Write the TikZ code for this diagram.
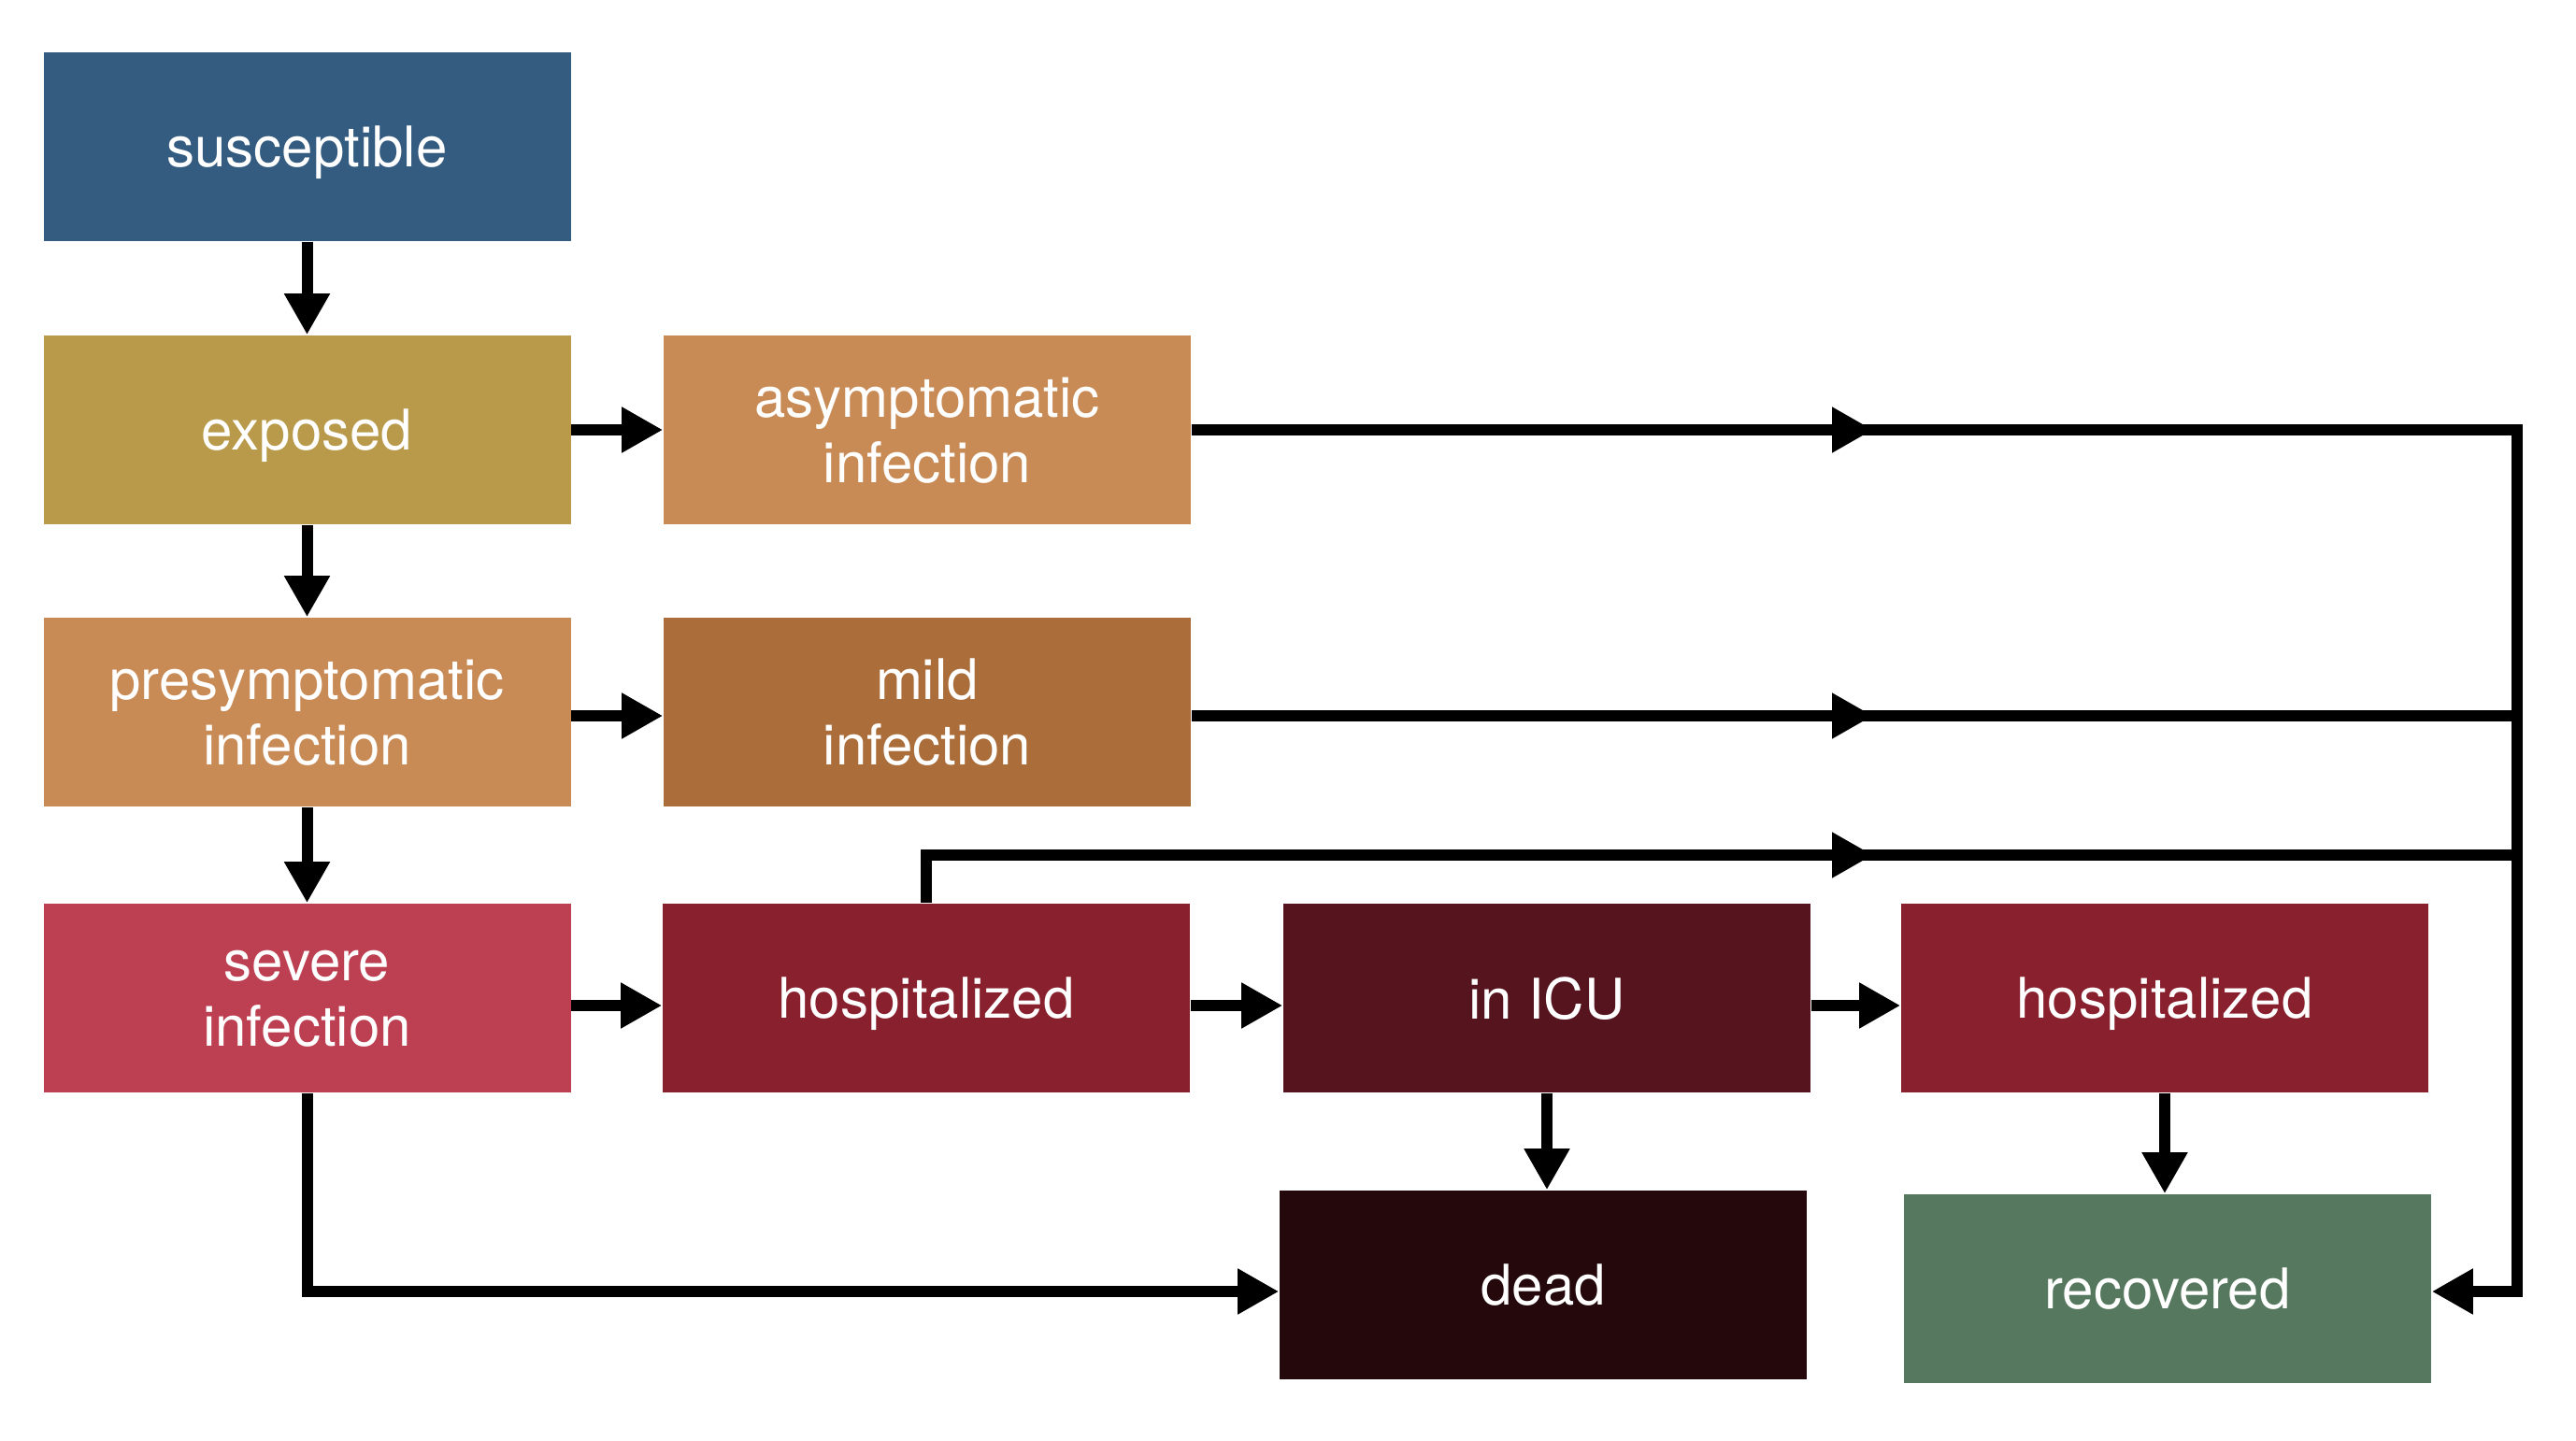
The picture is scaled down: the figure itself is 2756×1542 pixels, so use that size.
\documentclass[tikz,border=0pt]{standalone}
\usepackage{fontspec}
\setmainfont{TeX Gyre Heros}
\usetikzlibrary{arrows.meta}
\definecolor{cSus}{HTML}{345B80}
\definecolor{cExp}{HTML}{B89A4A}
\definecolor{cAsy}{HTML}{C98B56}
\definecolor{cMild}{HTML}{AB6E3B}
\definecolor{cSev}{HTML}{BC4051}
\definecolor{cHos}{HTML}{88202D}
\definecolor{cIcu}{HTML}{55141E}
\definecolor{cDead}{HTML}{24080C}
\definecolor{cRec}{HTML}{56785E}
\begin{document}
\begin{tikzpicture}[x=0.25pt,y=-0.25pt,
  box/.style={rectangle, minimum width=141pt, minimum height=50.5pt, inner sep=0pt,
    text=white, font=\fontsize{15}{17.5}\selectfont, align=center, text depth=0pt},
  arr/.style={line width=3pt, line join=miter, -{Triangle[length=11pt,width=11.5pt]}},
  ln/.style={line width=3pt, line join=miter}]
\useasboundingbox (0,0) rectangle (2756,1542);
\fill[white] (0,0) rectangle (2756,1542);

\node[box, fill=cSus]  (sus)  at (328.5,157) {susceptible};
\node[box, fill=cExp]  (exp)  at (328.5,460) {exposed};
\node[box, fill=cAsy]  (asy)  at (992,460) {asymptomatic\\infection};
\node[box, fill=cAsy]  (pre)  at (328.5,762) {presymptomatic\\infection};
\node[box, fill=cMild] (mild) at (992,762) {mild\\infection};
\node[box, fill=cSev]  (sev)  at (328.5,1068) {severe\\infection};
\node[box, fill=cHos]  (hosa) at (991,1068) {hospitalized};
\node[box, fill=cIcu]  (icu)  at (1655,1068) {in ICU};
\node[box, fill=cHos]  (hosb) at (2316,1068) {hospitalized};
\node[box, fill=cDead] (dead) at (1651,1375) {dead};
\node[box, fill=cRec]  (rec)  at (2319,1379) {recovered};

\coordinate (ra) at (2693,460);
\coordinate (rb) at (2693,766);
\coordinate (rc) at (2693,915);
\coordinate (rd) at (2693,1382);
\coordinate (ma) at (2004,460);
\coordinate (mb) at (2004,766);
\coordinate (mc) at (2004,915);

% vertical chain
\draw[arr] (sus.south) -- (exp.north);
\draw[arr] (exp.south) -- (pre.north);
\draw[arr] (pre.south) -- (sev.north);

% horizontal arrows
\draw[arr] (exp.east) -- (asy.west);
\draw[arr] ([yshift=-1pt]pre.east) -- ([yshift=-1pt]mild.west);
\draw[arr] ([yshift=-2pt]sev.east) -- ([yshift=-2pt]hosa.west);
\draw[arr] ([yshift=-2pt]hosa.east) -- ([yshift=-2pt]icu.west);
\draw[arr] ([yshift=-2pt]icu.east) -- ([yshift=-2pt]hosb.west);

% down arrows
\draw[arr] (icu.south) -- (icu.south |- dead.north);
\draw[arr] (hosb.south) -- (hosb.south |- rec.north);

% severe to dead
\draw[arr] (sev.south) |- (dead.west |- rd);

% to recovered
\draw[arr] (asy.east) -- (ra) -- (rd) -- (rec.east |- rd);
\draw[arr] (asy.east) -- (ma);
\draw[ln] ([yshift=-1pt]mild.east) -- (rb);
\draw[arr] ([yshift=-1pt]mild.east) -- (mb);
\draw[ln] (hosa.north) -- (hosa.north |- rc) -- (rc);
\draw[arr] (hosa.north |- rc) -- (mc);
\end{tikzpicture}
\end{document}
